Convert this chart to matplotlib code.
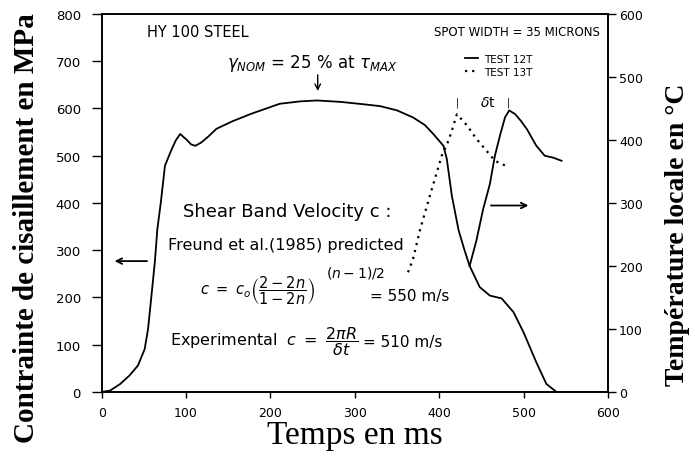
import numpy as np
import matplotlib
matplotlib.use("Agg")
import matplotlib.pyplot as plt
from matplotlib.lines import Line2D

# donnees
temps_contrainte = [0, 10, 22, 33, 43, 51, 55, 59, 63, 66, 70, 75, 83, 88, 93, 100, 106, 111,
                    118, 126, 136, 155, 176, 195, 211, 235, 255, 283, 310, 330, 350, 369,
                    383, 393, 405, 409, 415, 423, 430, 436, 448, 460, 474, 488, 500, 515,
                    527, 539, 560, 600]
contrainte = [0, 3, 17, 35, 56, 91, 134, 204, 275, 345, 400, 479, 514, 533, 546, 535, 524, 521,
              528, 540, 557, 573, 588, 600, 610, 615, 617, 614, 609, 605, 596, 581,
              565, 546, 521, 493, 415, 342, 300, 267, 222, 204, 198, 169, 126, 63,
              17, 0, 0, 0]

temps_12T = [436, 444, 452, 460, 466, 472, 478, 483, 490, 497, 504, 515, 525, 535, 545]
temp_12T = [200, 240, 290, 330, 375, 407, 436, 447, 441, 430, 417, 391, 375, 372, 367]

temps_13T = [363, 369, 377, 389, 403, 411, 415, 421, 433, 444, 456, 466, 482]
temp_13T = [190, 211, 256, 312, 375, 399, 415, 441, 423, 402, 383, 367, 357]

ticks_x = [0, 100, 200, 300, 400, 500, 600]
ticks_contrainte = [0, 100, 200, 300, 400, 500, 600, 700, 800]
ticks_temp = [0, 100, 200, 300, 400, 500, 600]

plt.rcParams["font.family"] = "DejaVu Sans"
plt.rcParams["mathtext.fontset"] = "dejavusans"

fig = plt.figure(figsize=(6.95, 4.6), dpi=100)
ax = fig.add_axes([0.1463, 0.1457, 0.7285, 0.8217])
ax2 = ax.twinx()

ax.plot(temps_contrainte, contrainte, color="black", lw=1.3)
ax2.plot(temps_12T, temp_12T, color="black", lw=1.3)
ax2.plot(temps_13T, temp_13T, color="black", lw=1.6, linestyle=(0, (1, 2.2)))

ax.set_xlim(0, 600)
ax.set_ylim(0, 800)
ax2.set_ylim(0, 600)
ax.set_xticks(ticks_x)
ax.set_yticks(ticks_contrainte)
ax2.set_yticks(ticks_temp)

for a in (ax, ax2):
    for s in a.spines.values():
        s.set_linewidth(1.2)
ax.tick_params(axis="y", direction="out", length=7, width=1, pad=8, labelsize=9.5)
ax.tick_params(axis="x", direction="out", length=4, width=1, pad=6, labelsize=9)
ax2.tick_params(axis="y", direction="out", length=6, width=1, pad=2, labelsize=9)

# textes
ax.text(54, 762, "HY 100 STEEL", fontsize=10.5, va="center")
ax.text(590, 762, "SPOT WIDTH = 35 MICRONS", fontsize=8.5, va="center", ha="right")
ax.text(249, 698, r"$\gamma_{NOM}$ = 25 % at $\tau_{MAX}$", fontsize=12, va="center", ha="center")
ax.annotate("", xy=(256, 631), xytext=(256, 677),
            arrowprops=dict(arrowstyle="->", lw=1, color="black"))

ax.text(421, 614, "|", fontsize=7, ha="center", va="center")
ax.text(482, 614, "|", fontsize=7, ha="center", va="center")
ax.text(457, 614, r"$\delta$t", fontsize=10, ha="center", va="center")

ax.text(96, 383, "Shear Band Velocity c :", fontsize=13, va="center")
ax.text(79, 313, "Freund et al.(1985) predicted", fontsize=11.5, va="center")

# formule de Freund
ax.text(117, 216, r"$c\ =\ c_o\left(\dfrac{2-2n}{1-2n}\right)^{\ }$", fontsize=10.5, va="center")
ax.text(266, 254, r"$(n-1)/2$", fontsize=10, va="center")
ax.text(318, 205, "= 550 m/s", fontsize=11, va="center")

ax.text(81, 110, r"Experimental  $c\ =\ \dfrac{2\pi R}{\delta t}$", fontsize=11.5, va="center")
ax.text(310, 106, "= 510 m/s", fontsize=11, va="center")

# fleches vers les axes
ax.annotate("", xy=(12, 277), xytext=(57, 277),
            arrowprops=dict(arrowstyle="->", lw=1.3, color="black"))
ax2.annotate("", xy=(509, 296), xytext=(458, 296),
             arrowprops=dict(arrowstyle="->", lw=1.3, color="black"))

# legende
poignees = [Line2D([], [], color="black", lw=1.3),
            Line2D([], [], color="black", lw=1.6, linestyle=(0, (1, 2.2)))]
ax.legend(poignees, ["TEST 12T", "TEST 13T"], loc="upper left", bbox_to_anchor=(0.717, 0.895),
          frameon=False, fontsize=7.5, handlelength=1.3, handletextpad=0.6,
          borderpad=0, borderaxespad=0, labelspacing=0.3)

fig.text(27 / 695, 1 - 228 / 460, "Contrainte de cisaillement en MPa", rotation=90,
         ha="center", va="center", fontsize=21, fontweight="bold", family="Liberation Serif")
fig.text(678 / 695, 1 - 235 / 460, "Température locale en °C", rotation=90,
         ha="center", va="center", fontsize=20, fontweight="bold", family="Liberation Serif")
fig.text(355 / 695, 1 - 436 / 460, "Temps en ms", ha="center", va="center",
         fontsize=24, family="Liberation Serif")

fig.savefig("out.png", dpi=100)
